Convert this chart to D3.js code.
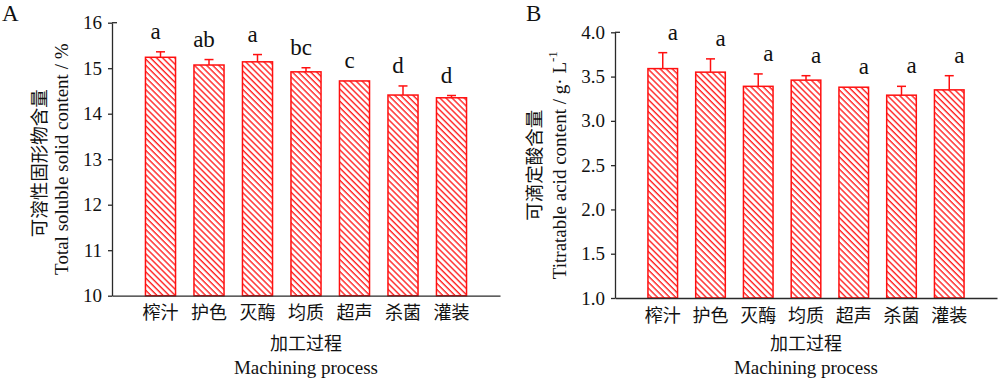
<!DOCTYPE html>
<html>
<head>
<meta charset="utf-8">
<script src="https://cdn.jsdelivr.net/npm/d3@7"></script>
<style>
  html, body { margin: 0; padding: 0; background: #fff; }
  svg { display: block; }
  text { font-family: "Liberation Serif", "Noto Sans CJK SC", serif; fill: #111; }
</style>
</head>
<body>
<svg id="chart" width="1000" height="382"></svg>
<script>
// ---------- data ----------
const categories = ["榨汁", "护色", "灭酶", "均质", "超声", "杀菌", "灌装"];

const solidValues = [15.24, 15.07, 15.14, 14.92, 14.72, 14.41, 14.35];
const solidErrors = [0.12, 0.12, 0.16, 0.09, 0.0, 0.20, 0.05];
const solidLetters = ["a", "ab", "a", "bc", "c", "d", "d"];
const solidTicks = [10, 11, 12, 13, 14, 15, 16];

const acidValues = [3.59, 3.55, 3.39, 3.46, 3.38, 3.29, 3.35];
const acidErrors = [0.18, 0.15, 0.14, 0.05, 0.0, 0.10, 0.16];
const acidLetters = ["a", "a", "a", "a", "a", "a", "a"];
const acidTicks = [1.0, 1.5, 2.0, 2.5, 3.0, 3.5, 4.0];

const xTitleCn = "加工过程";
const xTitleEn = "Machining process";

// ---------- drawing ----------
const svg = d3.select("#chart");
const RED = "#ff1010";
const AXIS = "#2a2a2a";
const CJK = "'Noto Sans CJK SC', sans-serif";

const defs = svg.append("defs");
const pat = defs.append("pattern")
  .attr("id", "hatch")
  .attr("patternUnits", "userSpaceOnUse")
  .attr("width", 4.3).attr("height", 10)
  .attr("patternTransform", "rotate(-45)");
pat.append("rect").attr("width", 4.3).attr("height", 10).attr("fill", "#fff");
pat.append("line").attr("x1", 1).attr("x2", 1).attr("y1", 0).attr("y2", 10)
  .attr("stroke", RED).attr("stroke-width", 1.3);

function panel(cfg) {
  const g = svg.append("g");
  const x = d3.scaleBand().domain(categories)
    .range([cfg.x0, cfg.x1]).paddingInner(0.38).paddingOuter(0.69);
  const y = d3.scaleLinear().domain(cfg.domain).range([cfg.yBottom, cfg.yTop]);

  // bars
  g.selectAll("rect.bar").data(cfg.values).join("rect")
    .attr("class", "bar")
    .attr("x", (d, i) => x(categories[i]))
    .attr("width", x.bandwidth())
    .attr("y", d => y(d))
    .attr("height", d => y(cfg.domain[0]) - y(d))
    .attr("fill", "url(#hatch)")
    .attr("stroke", RED).attr("stroke-width", 1.5);

  // error bars
  const eg = g.append("g").attr("stroke", RED).attr("stroke-width", 1.5);
  cfg.values.forEach((v, i) => {
    const cx = x(categories[i]) + x.bandwidth() / 2;
    const top = y(v + cfg.errors[i]);
    if (cfg.errors[i] > 0) {
      eg.append("line").attr("x1", cx).attr("x2", cx).attr("y1", y(v)).attr("y2", top);
      eg.append("line").attr("x1", cx - 4.5).attr("x2", cx + 4.5).attr("y1", top).attr("y2", top);
    }
  });

  // significance letters
  g.selectAll("text.sig").data(cfg.letters).join("text")
    .attr("class", "sig")
    .attr("x", (d, i) => x(categories[i]) + x.bandwidth() / 2 + cfg.letterDx)
    .attr("y", (d, i) => y(cfg.values[i] + cfg.errors[i]) - 13)
    .attr("text-anchor", "middle")
    .style("font-size", "23px")
    .text(d => d);

  // y axis
  const yAxis = d3.axisLeft(y).tickValues(cfg.ticks).tickFormat(cfg.fmt)
    .tickSizeInner(4).tickSizeOuter(0).tickPadding(6);
  const ya = g.append("g").attr("transform", `translate(${cfg.x0},0)`).call(yAxis);
  ya.select(".domain").attr("stroke", AXIS).attr("stroke-width", 1.3);
  ya.selectAll(".tick line").attr("stroke", AXIS).attr("stroke-width", 1.3);
  ya.selectAll(".tick text").style("font-size", "19px")
    .style("font-family", "'Liberation Serif', serif").attr("fill", "#111");
  g.append("line").attr("x1", cfg.x0).attr("x2", cfg.x0 + 5)
    .attr("y1", cfg.yTop).attr("y2", cfg.yTop)
    .attr("stroke", AXIS).attr("stroke-width", 1.3);

  // x axis
  const xAxis = d3.axisBottom(x).tickSize(0).tickSizeOuter(0).tickPadding(11);
  const xa = g.append("g").attr("transform", `translate(0,${cfg.yBottom})`).call(xAxis);
  xa.select(".domain").attr("stroke", AXIS).attr("stroke-width", 1.3);
  xa.selectAll(".tick text").style("font-size", "18px")
    .style("font-family", CJK).attr("fill", "#222");

  const xc = (cfg.x0 + cfg.x1) / 2;
  g.append("text").attr("x", xc).attr("y", 350).attr("text-anchor", "middle")
    .style("font-size", "18px").style("font-family", CJK).text(xTitleCn);
  g.append("text").attr("x", xc).attr("y", 374).attr("text-anchor", "middle")
    .style("font-size", "19px").text(xTitleEn);

  // y titles
  const yc = (cfg.yTop + cfg.yBottom) / 2;
  g.append("text")
    .attr("transform", `translate(${cfg.cnX},${yc + cfg.cnDy}) rotate(-90)`)
    .attr("text-anchor", "middle").attr("dominant-baseline", "central")
    .style("font-size", "18.5px").style("font-family", CJK)
    .attr("fill", "#111").text(cfg.yTitleCn);
  const en = g.append("text")
    .attr("transform", `translate(${cfg.enX},${yc}) rotate(-90)`)
    .attr("text-anchor", "middle").attr("dominant-baseline", "central")
    .style("font-size", "19px");
  cfg.yTitleEn(en);

  // panel label
  g.append("text").attr("x", cfg.labelX).attr("y", 21)
    .style("font-size", "23px").text(cfg.label);
}

panel({
  label: "A", labelX: 2,
  x0: 112, x1: 500, yTop: 22.7, yBottom: 295.7,
  domain: [10, 16], ticks: solidTicks, fmt: d3.format("d"),
  values: solidValues, errors: solidErrors, letters: solidLetters, letterDx: -5,
  cnX: 38, cnDy: 4, enX: 61,
  yTitleCn: "可溶性固形物含量",
  yTitleEn: t => t.text("Total soluble solid content / %")
});

panel({
  label: "B", labelX: 526,
  x0: 615, x1: 997, yTop: 32.3, yBottom: 298,
  domain: [1, 4], ticks: acidTicks, fmt: d3.format(".1f"),
  values: acidValues, errors: acidErrors, letters: acidLetters, letterDx: 10,
  cnX: 533, cnDy: 0, enX: 559,
  yTitleCn: "可滴定酸含量",
  yTitleEn: t => {
    t.append("tspan").text("Titratable acid content / g· L");
    t.append("tspan").attr("dy", -7).style("font-size", "13px").text("-1");
  }
});
</script>
</body>
</html>
